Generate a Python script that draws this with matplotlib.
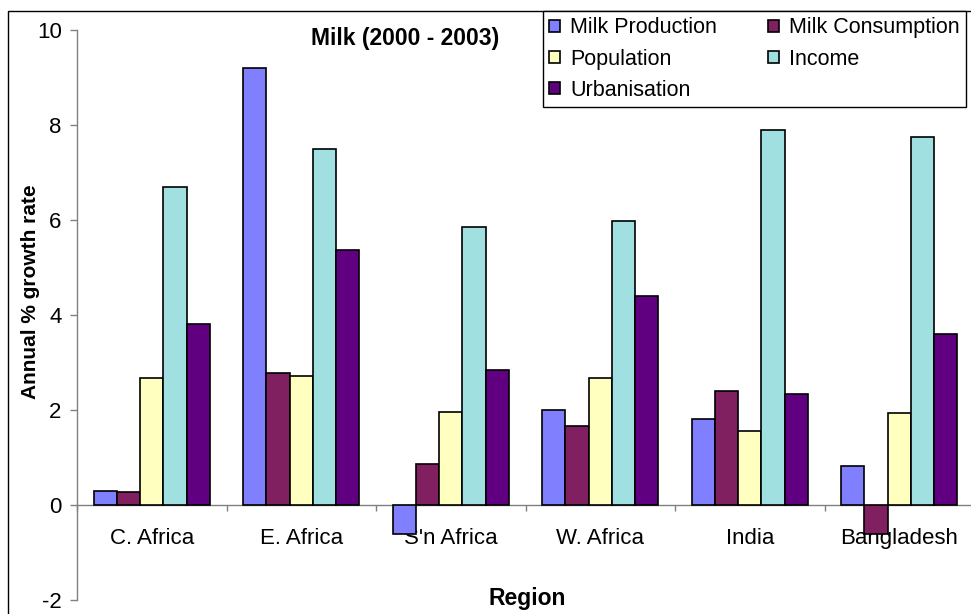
#!/usr/bin/env python3
"""Milk growth rates by region, 2000-2003: production, consumption and drivers."""

import matplotlib

matplotlib.use("Agg")
import matplotlib.pyplot as plt
import numpy as np
from matplotlib.patches import Rectangle

REGIONS = ["C. Africa", "E. Africa", "S'n Africa", "W. Africa", "India", "Bangladesh"]
SERIES = ["Milk Production", "Milk Consumption", "Population", "Income", "Urbanisation"]

milk_production = [0.29, 9.20, -0.62, 2.01, 1.81, 0.83]
milk_consumption = [0.27, 2.78, 0.86, 1.67, 2.41, -0.60]
population = [2.67, 2.72, 1.96, 2.67, 1.56, 1.93]
income = [6.70, 7.49, 5.86, 5.97, 7.89, 7.75]
urbanisation = [3.82, 5.37, 2.85, 4.41, 2.34, 3.59]

COLORS = ["#8080FF", "#802060", "#FFFFC0", "#A0E0E0", "#600080"]

W, H = 971, 614
FS = 15.5
AXIS_GREY = "#808080"


def main() -> None:
    plt.rcParams["font.family"] = ["Liberation Sans", "DejaVu Sans"]
    plt.rcParams["axes.unicode_minus"] = False
    fig = plt.figure(figsize=(W / 100, H / 100), dpi=100)
    ax = fig.add_axes([77 / W, 1 - 600 / H, 897 / W, 570 / H])

    values = [milk_production, milk_consumption, population, income, urbanisation]
    x = np.arange(len(REGIONS))
    width = 0.155
    handles = []
    for k, (name, vals, color) in enumerate(zip(SERIES, values, COLORS)):
        bars = ax.bar(x + (k - 2) * width, vals, width, color=color,
                      edgecolor="black", linewidth=1.2, label=name, zorder=3)
        handles.append(bars)

    ax.set_xlim(-0.5, len(REGIONS) - 0.5)
    ax.set_ylim(-2, 10)
    ax.set_yticks(np.arange(-2, 11, 2))
    ax.tick_params(axis="y", direction="out", length=5, width=1, color=AXIS_GREY,
                   labelsize=FS + 0.5, pad=6)

    # category axis sits on the zero line, ticks between groups
    ax.spines["bottom"].set_position(("data", 0))
    ax.set_xticks(np.arange(-0.5, len(REGIONS), 1.0))
    ax.set_xticklabels([])
    ax.tick_params(axis="x", direction="out", length=4.5, width=1, color=AXIS_GREY)
    for i, region in enumerate(REGIONS):
        ax.text(i, -0.7, region, ha="center", va="center", fontsize=FS + 0.5, zorder=2)

    for side in ("top", "right"):
        ax.spines[side].set_visible(False)
    for side in ("left", "bottom"):
        ax.spines[side].set_color(AXIS_GREY)
        ax.spines[side].set_linewidth(1)
        ax.spines[side].set_zorder(1)

    fig.text(30 / W, 1 - 292 / H, "Annual % growth rate", rotation=90,
             ha="center", va="center", fontsize=FS - 0.5, fontweight="bold")
    fig.text(527 / W, 1 - 598 / H, "Region", ha="center", va="center",
             fontsize=FS + 1, fontweight="bold")
    fig.text(405 / W, 1 - 38 / H, "Milk (2000 - 2003)", ha="center", va="center",
             fontsize=FS + 1, fontweight="bold")

    # legend laid out row by row: matplotlib fills columns first
    order = [0, 2, 4, 1, 3]
    leg = fig.legend([handles[i] for i in order], [SERIES[i] for i in order],
                     ncol=2, loc="upper left", bbox_to_anchor=(543 / W, 1 - 11 / H),
                     fontsize=FS, frameon=True, fancybox=False, framealpha=1,
                     edgecolor="black", handlelength=0.5, handleheight=0.5,
                     handletextpad=0.45, labelspacing=0.47, columnspacing=2.4,
                     borderpad=0.3, borderaxespad=0)
    leg.get_frame().set_linewidth(1)
    leg.set_zorder(5)

    # chart outer border
    fig.add_artist(Rectangle((8 / W, -0.1), 2, 1.1 - 11 / H, transform=fig.transFigure,
                             fill=False, edgecolor="black", linewidth=1, zorder=0))

    fig.savefig("out.png", dpi=100)
    plt.close(fig)


if __name__ == "__main__":
    main()
